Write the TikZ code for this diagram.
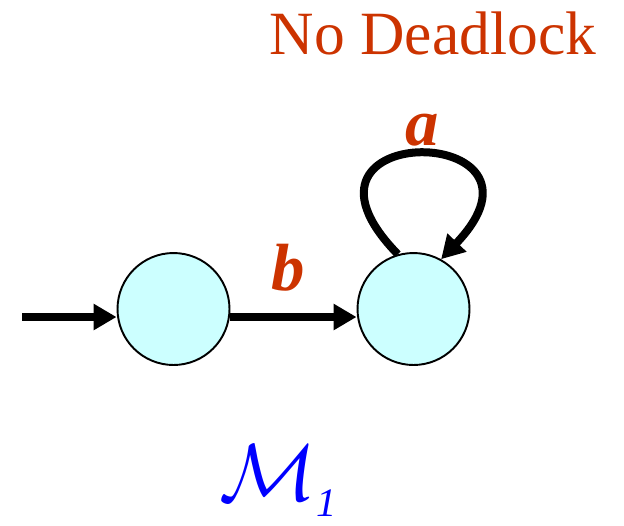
\documentclass[tikz,border=0pt]{standalone}
\usepackage{fontspec}
\setmainfont{Liberation Serif}
\usetikzlibrary{arrows.meta}
\definecolor{lblred}{RGB}{204,51,0}
\definecolor{statefill}{RGB}{204,255,255}

\begin{document}
\begin{tikzpicture}[x=0.02cm, y=-0.02cm,
	state/.style={circle, draw, fill=statefill, line width=1.1pt, minimum size=2.24cm, inner sep=0pt},
	edge/.style={line width=0.16cm, -{Triangle[length=0.46cm, width=0.5cm]}},
	letter/.style={text=lblred, font=\fontsize{38}{40}\selectfont\bfseries\itshape}]
	\useasboundingbox (0, 0) rectangle (624, 525);
	% States and transitions:
	\node[state](q0) at (173.5, 309){};
	\node[state](q1) at (413.5, 309){};
	\coordinate (init) at (22, 317);
	\draw[edge] (init) -- (init -| q0.west);
	\draw[edge] (q0.east |- init) -- (q1.west |- init);
	\draw[edge] (q1.106) .. controls (265, 118) and (572, 122) .. (q1.61);
	\node[letter](lb) at (288, 268){b};
	\node[letter](la) at (422, 130){a};
	\node[text=lblred, font=\fontsize{35}{38}\selectfont](title) at (433, 33){No Deadlock};
	\node[text=blue, anchor=base west, inner sep=0pt, scale=4.6](name) at (218, 500){$\mathcal{M}_{\lower0.5pt\hbox{$\scriptscriptstyle\mathit{1}$}}$};
\end{tikzpicture}
\end{document}
